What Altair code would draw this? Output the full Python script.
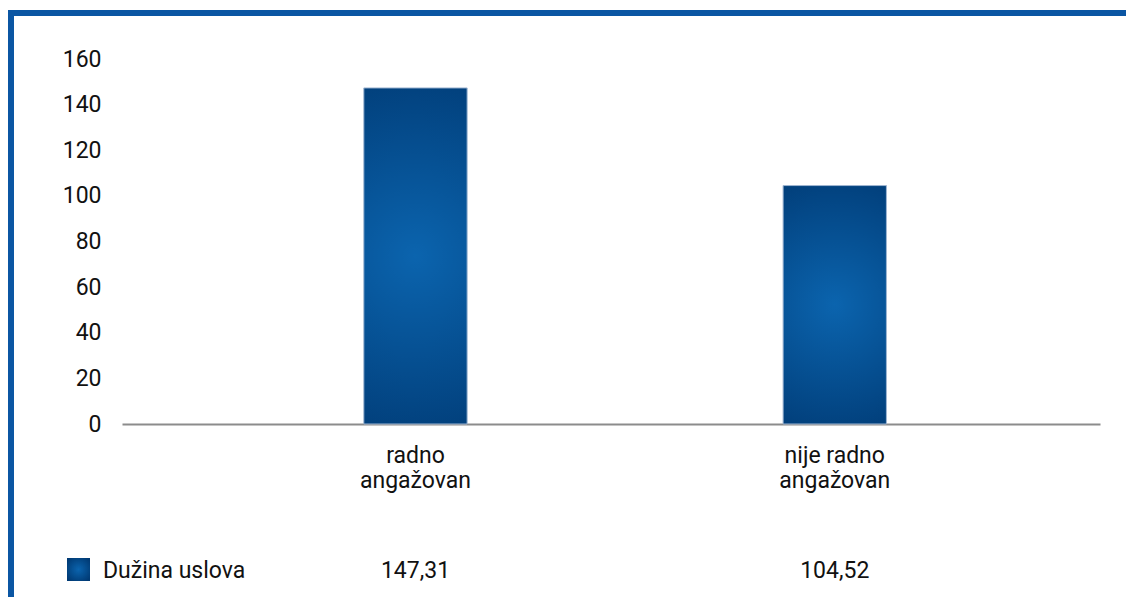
import altair as alt
import pandas as pd

# ---- data ----
categories = ["radno angažovan", "nije radno angažovan"]
values = [147.31, 104.52]
series_name = ["Dužina uslova"]
y_ticks = [0, 20, 40, 60, 80, 100, 120, 140, 160]

df = pd.DataFrame({"kategorija": categories, "vrijednost": values})
df["tekst"] = [f"{v:.2f}".replace(".", ",") for v in values]
legend_df = pd.DataFrame({"serija": series_name})
frame_df = pd.DataFrame({"k": [0]})

W, H = 978, 365
FONT = "Roboto"
FS = 23
BLUE = "#0b56a3"

grad = alt.RadialGradient(
    gradient="radial",
    stops=[alt.GradientStop(offset=0, color="#0b64ae"),
           alt.GradientStop(offset=1, color="#003a74")],
    x1=0.5, y1=0.5, r1=0, x2=0.5, y2=0.5, r2=0.62,
)

split_expr = ("[slice(datum.label, 0, lastindexof(datum.label, ' ')), "
              "slice(datum.label, lastindexof(datum.label, ' ') + 1)]")

xscale = alt.Scale(paddingInner=0.7536, paddingOuter=0.5431, align=0.531)
x_enc = alt.X(
    "kategorija:N", sort=categories, scale=xscale,
    axis=alt.Axis(title=None, labelAngle=0, ticks=False, domainColor="#8c8c8c",
                  domainWidth=2, labelFont=FONT, labelFontSize=FS, labelColor="#111111",
                  labelPadding=20, labelLineHeight=25, labelExpr=split_expr),
)
y_enc = alt.Y(
    "vrijednost:Q", scale=alt.Scale(domain=[0, 160], nice=False),
    axis=alt.Axis(title=None, values=y_ticks, domain=False, ticks=False, grid=False,
                  labelFont=FONT, labelFontSize=FS, labelColor="#111111", labelPadding=21),
)

bars = alt.Chart(df).mark_bar(color=grad, stroke="#9fb6d2", strokeWidth=1).encode(x=x_enc, y=y_enc)

value_text = alt.Chart(df).mark_text(font=FONT, fontSize=FS, color="#111111", baseline="middle").encode(
    x=alt.X("kategorija:N", sort=categories), y=alt.value(512), text="tekst:N")

legend_sq = alt.Chart(legend_df).mark_rect(color=grad).encode(
    x=alt.value(-55), x2=alt.value(-32), y=alt.value(499), y2=alt.value(522))
legend_txt = alt.Chart(legend_df).mark_text(font=FONT, fontSize=FS, color="#111111",
                                            align="left", baseline="middle").encode(
    x=alt.value(-19), y=alt.value(512), text="serija:N")

top_border = alt.Chart(frame_df).mark_rule(color=BLUE, strokeWidth=6).encode(
    x=alt.value(-114), x2=alt.value(1004), y=alt.value(-46))
left_border = alt.Chart(frame_df).mark_rule(color=BLUE, strokeWidth=6).encode(
    x=alt.value(-111), y=alt.value(-49), y2=alt.value(540))

chart = alt.layer(bars, value_text, legend_sq, legend_txt, top_border, left_border).properties(
    width=W, height=H,
    background="white",
    autosize=alt.AutoSizeParams(type="none"),
    padding={"left": 114, "top": 51, "right": 26, "bottom": 173},
).configure_view(strokeWidth=0, strokeOpacity=0)

chart.save("out.html", embed_options={"renderer": "svg", "actions": False})
